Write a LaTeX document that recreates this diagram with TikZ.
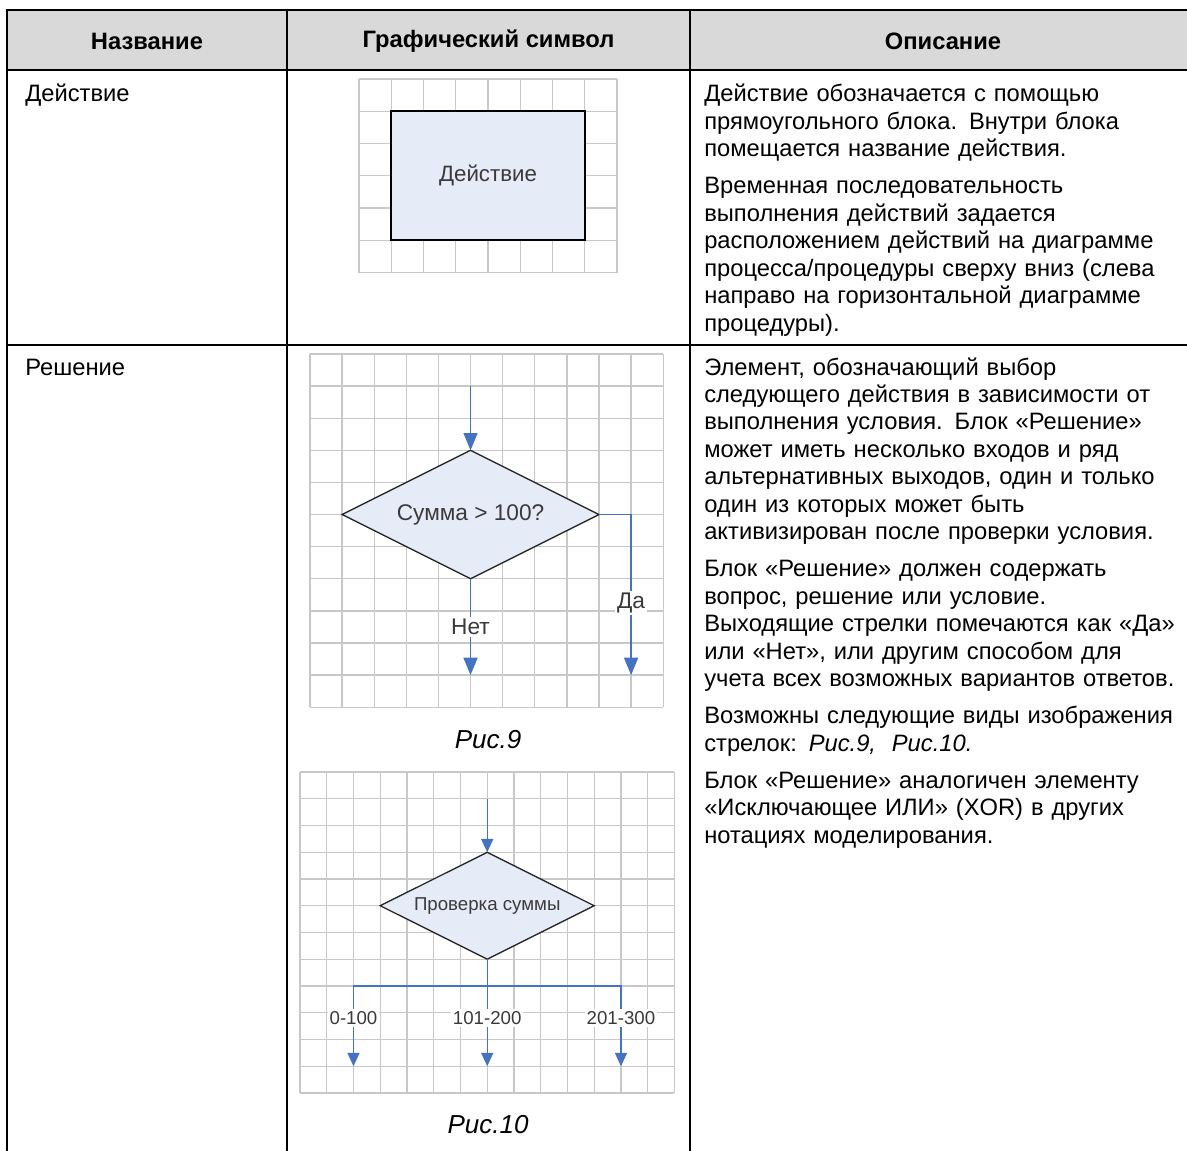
\documentclass[tikz,border=0pt]{standalone}
\usepackage{fontspec}
\setmainfont{Liberation Sans}
\usetikzlibrary{shapes.geometric,arrows.meta}
\usepackage{xcolor}

\definecolor{headgray}{HTML}{D9D9D9}
\definecolor{gridgray}{HTML}{C8C8C8}
\definecolor{boxblue}{HTML}{E6ECF7}
\definecolor{flowblue}{HTML}{4472C4}
\definecolor{figtext}{HTML}{3A3A3A}

\newcommand\bodyfont{\fontsize{17.8}{20.6}\selectfont}
\newcommand\parbreak{\par\vspace{7.2pt}}

\tikzset{
  rule/.style={line width=1.5pt},
  gridline/.style={draw=gridgray, line width=1pt},
  headtext/.style={inner sep=0pt, font=\bodyfont\bfseries},
  celltext/.style={anchor=base west, inner sep=0pt, align=left, text width=370pt, font=\bodyfont},
  figcap/.style={inner sep=0pt, font=\fontsize{19.5}{22}\selectfont\itshape},
  actbox/.style={rectangle, draw=black, line width=1.4pt, fill=boxblue, inner sep=0pt, outer sep=0pt, text=figtext, font=\fontsize{16.7}{19}\selectfont},
  decision/.style={diamond, aspect=2, draw=black!85, line width=1pt, fill=boxblue, inner sep=0pt, outer sep=0pt, text=figtext},
  flow/.style={flowblue, line width=1.1pt, -{Triangle[length=13pt,width=10.5pt]}},
  smallflow/.style={flowblue, line width=1.1pt, -{Triangle[length=10pt,width=9pt]}},
  branch/.style={flowblue, line width=1.1pt},
  lbl/.style={fill=white, inner sep=1.5pt, text=figtext}
}

\begin{document}
\begin{tikzpicture}[x=0.75pt, y=-0.75pt]
  \useasboundingbox (0,0) rectangle (1187,1151);

  % table head and rules
  \fill[headgray] (7,10) rectangle (1187,70.5);
  \draw[rule] (7,10) -- (1187,10);
  \draw[rule] (7,70.5) -- (1187,70.5);
  \draw[rule] (7,345) -- (1187,345);
  \draw[rule] (7,9.3) -- (7,1151);
  \draw[rule] (287,9.3) -- (287,1151);
  \draw[rule] (690,9.3) -- (690,1151);

  \node[headtext] (hname) at (147,41) {Название};
  \node[headtext] (hsym) at (488.5,41) {Графический символ};
  \node[headtext] (hdesc) at (943,41) {Описание};

  % row 1: action
  \node[celltext] (nact) at (25,102) {Действие};
  \begin{scope}[shift={(359,79)}, x=24.19pt, y=-24.19pt]
    \foreach \i in {0,...,8} \draw[gridline] (\i,0) -- (\i,6);
    \foreach \j in {0,...,6} \draw[gridline] (0,\j) -- (8,\j);
    \node[actbox, minimum width=145.1pt, minimum height=96.8pt] (act) at (4,3) {Действие};
  \end{scope}
  \node[celltext] (dact) at (704,102) {Действие обозначается с помощью\\
    прямоугольного блока. Внутри блока\\
    помещается название действия.\parbreak
    Временная последовательность\\
    выполнения действий задается\\
    расположением действий на диаграмме\\
    процесса/процедуры сверху вниз (слева\\
    направо на горизонтальной диаграмме\\
    процедуры).};

  % row 2: decision
  \node[celltext] (ndec) at (25,375) {Решение};

  % Рис.9
  \begin{scope}[shift={(310,354)}, x=24.08pt, y=-24.08pt]
    \foreach \i in {0,...,11} \draw[gridline] (\i,0) -- (\i,11);
    \foreach \j in {0,...,11} \draw[gridline] (0,\j) -- (11,\j);
    \node[decision, minimum width=192.6pt, minimum height=96.3pt, font=\fontsize{17}{19}\selectfont] (sum) at (5,5) {Сумма > 100?};
    \coordinate (in9) at (5,1);
    \coordinate (no9) at (5,10);
    \coordinate (yes9) at (10,10);
    \draw[flow] (in9) -- (sum.north);
    \draw[flow] (sum.south) -- node[lbl, font=\fontsize{17}{19}\selectfont] (lno) {Нет} (no9);
    \draw[flow] (sum.east) -| node[lbl, pos=0.775, font=\fontsize{17}{19}\selectfont] (lyes) {Да} (yes9);
  \end{scope}
  \node[figcap] (cap9) at (488,740) {Рис.9};

  % Рис.10
  \begin{scope}[shift={(300,772)}, x=20.06pt, y=-20.06pt]
    \foreach \i in {0,...,14} \draw[gridline] (\i,0) -- (\i,12);
    \foreach \j in {0,...,12} \draw[gridline] (0,\j) -- (14,\j);
    \node[decision, minimum width=160.5pt, minimum height=80.2pt, font=\fontsize{14}{16}\selectfont] (chk) at (7,5) {Проверка суммы};
    \coordinate (in10) at (7,1);
    \coordinate (fork) at (7,8);
    \coordinate (r1) at (2,11);
    \coordinate (r2) at (7,11);
    \coordinate (r3) at (12,11);
    \draw[smallflow] (in10) -- (chk.north);
    \draw[branch] (chk.south) -- (fork);
    \draw[smallflow] (fork) -| node[lbl, pos=0.7, font=\fontsize{14}{16}\selectfont] (la) {0-100} (r1);
    \draw[smallflow] (fork) -- node[lbl, pos=0.4, font=\fontsize{14}{16}\selectfont] (lb) {101-200} (r2);
    \draw[smallflow] (fork) -| node[lbl, pos=0.7, font=\fontsize{14}{16}\selectfont] (lc) {201-300} (r3);
  \end{scope}
  \node[figcap] (cap10) at (488,1125) {Рис.10};

  \node[celltext] (ddec) at (704,375) {Элемент, обозначающий выбор\\
    следующего действия в зависимости от\\
    выполнения условия. Блок «Решение»\\
    может иметь несколько входов и ряд\\
    альтернативных выходов, один и только\\
    один из которых может быть\\
    активизирован после проверки условия.\parbreak
    Блок «Решение» должен содержать\\
    вопрос, решение или условие.\\
    Выходящие стрелки помечаются как «Да»\\
    или «Нет», или другим способом для\\
    учета всех возможных вариантов ответов.\parbreak
    Возможны следующие виды изображения\\
    стрелок: \textit{Рис.9,~ Рис.10.}\parbreak
    Блок «Решение» аналогичен элементу\\
    «Исключающее ИЛИ» (XOR) в других\\
    нотациях моделирования.};
\end{tikzpicture}
\end{document}
